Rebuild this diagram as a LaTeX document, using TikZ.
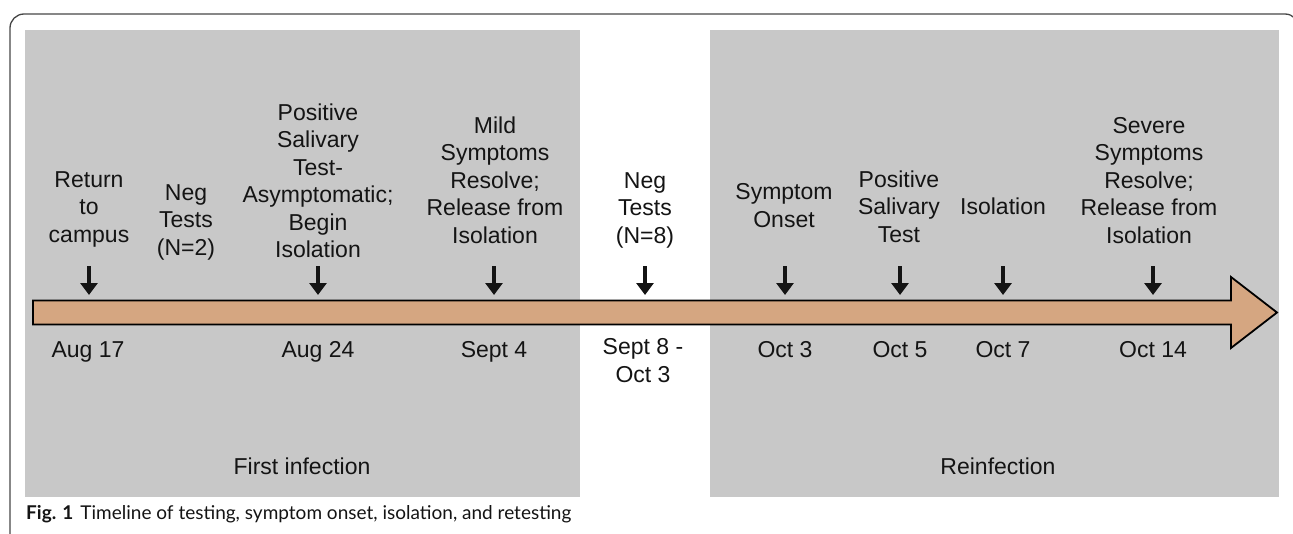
\documentclass[tikz,border=0pt]{standalone}
\usepackage{fontspec}
\setmainfont{Liberation Sans}
\newfontfamily\capfont{Lato}
\usetikzlibrary{arrows.meta}
\definecolor{panelgray}{RGB}{200,200,200}
\definecolor{tan}{RGB}{213,166,129}
\definecolor{framegray}{RGB}{70,70,70}
\definecolor{txt}{RGB}{20,20,20}
\tikzset{
  lbl/.style={font=\fontsize{23}{27.5}\selectfont, align=center, inner sep=0pt, anchor=base, text=txt},
  datelbl/.style={lbl},
  tick/.style={-{Triangle[width=17pt,length=12pt]}, line width=4.5pt, color=txt},
  panel/.style={fill=panelgray, draw=none},
}
\begin{document}
\begin{tikzpicture}[x=1pt,y=-1pt]
\useasboundingbox (0,0) rectangle (1293,533);
% frame
\draw[framegray, line width=1.3pt, rounded corners=14pt] (10,545) -- (10,14) -- (1299,14) -- (1299,545);
% panels
\fill[panel] (25,30) rectangle (580,497);
\fill[panel] (710,30) rectangle (1279,497);
% timeline arrow
\draw[fill=tan, line width=1.8pt, line join=miter, color=black, fill=tan]
  (33,300.5) -- (1231,300.5) -- (1231,277) -- (1277,312.5) -- (1231,348) -- (1231,324.5) -- (33,324.5) -- cycle;
% event labels (anchored at the baseline of the last line)
\node[lbl] (e1) at (89,242) {Return\\to\\campus};
\node[lbl] (e2) at (186,255) {Neg\\Tests\\(N=2)};
\node[lbl] (e3) at (318,257.5) {Positive\\Salivary\\Test-\\Asymptomatic;\\Begin\\Isolation};
\node[lbl] (e4) at (495,243) {Mild\\Symptoms\\Resolve;\\Release from\\Isolation};
\node[lbl] (e5) at (645,243) {Neg\\Tests\\(N=8)};
\node[lbl] (e6) at (784,227) {Symptom\\Onset};
\node[lbl] (e7) at (899,242) {Positive\\Salivary\\Test};
\node[lbl] (e8) at (1003,214) {Isolation};
\node[lbl] (e9) at (1149,243) {Severe\\Symptoms\\Resolve;\\Release from\\Isolation};
% ticks
\foreach \n/\x in {1/89,3/318,4/494,5/645,6/785,7/900,8/1003,9/1153}{
  \coordinate (t\n a) at (\x,266);
  \coordinate (t\n b) at (\x,295);
  \draw[tick] (t\n a) -- (t\n b);
}
% dates
\node[datelbl] (d1) at (88,357) {Aug 17};
\node[datelbl] (d3) at (318,357) {Aug 24};
\node[datelbl] (d4) at (494,357) {Sept 4};
\node[datelbl] (d5) at (643,382) {Sept 8 -\\Oct 3};
\node[datelbl] (d6) at (785,357) {Oct 3};
\node[datelbl] (d7) at (900,357) {Oct 5};
\node[datelbl] (d8) at (1003,357) {Oct 7};
\node[datelbl] (d9) at (1153,357) {Oct 14};
% panel titles
\node[lbl] (p1) at (302,474) {First infection};
\node[lbl] (p2) at (998,474) {Reinfection};
% caption
\node[anchor=base west, inner sep=0pt, font=\capfont\fontsize{19}{23}\selectfont, text=txt] (cap) at (26,519) {\textbf{Fig. 1}\hspace{7pt}Timeline of testing, symptom onset, isolation, and retesting};
\end{tikzpicture}
\end{document}
